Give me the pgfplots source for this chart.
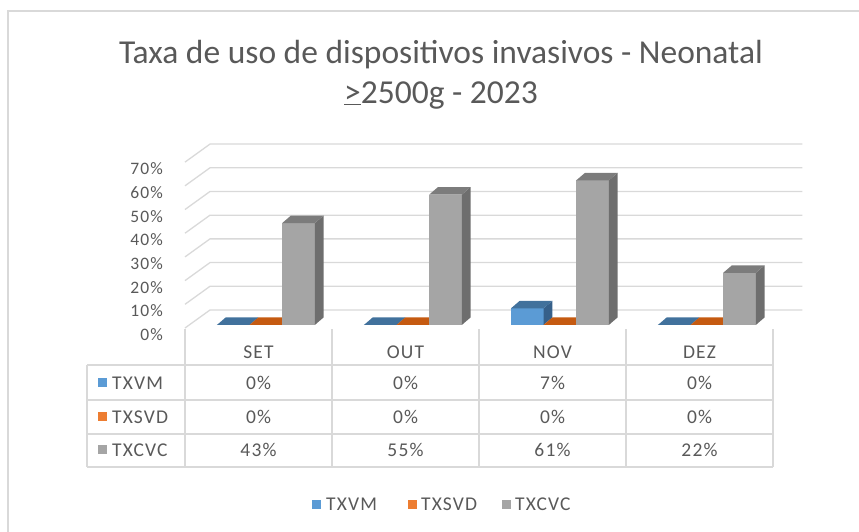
\documentclass[border=0pt]{standalone}
\usepackage{pgfplots}
\pgfplotsset{compat=1.18}
\usepackage{pgfplotstable}
\usepackage{fontspec}
\setmainfont{Carlito}
\newfontfamily\spaced[LetterSpace=6]{Carlito}
\definecolor{txt}{HTML}{595959}
\definecolor{gridc}{HTML}{D9D9D9}
\definecolor{tblc}{HTML}{D9D9D9}
\definecolor{framec}{HTML}{D9D9D9}
\definecolor{TXVMfront}{HTML}{5B9BD5}
\definecolor{TXVMtop}{HTML}{41719C}
\definecolor{TXVMside}{HTML}{36608A}
\definecolor{TXSVDfront}{HTML}{ED7D31}
\definecolor{TXSVDtop}{HTML}{C55A11}
\definecolor{TXSVDside}{HTML}{B04E10}
\definecolor{TXCVCfront}{HTML}{A5A5A5}
\definecolor{TXCVCtop}{HTML}{7C7C7C}
\definecolor{TXCVCside}{HTML}{6E6E6E}

\pgfplotstableread{
month TXVM TXSVD TXCVC
SET 0 0 43
OUT 0 0 55
NOV 7 0 61
DEZ 0 0 22
}\rates

% one 3-D column: #1 row (month), #2 series index, #3 column name
\newcommand\drawbar[3]{%
  \pgfplotstablegetelem{#1}{#3}\of\rates
  \pgfmathsetmacro\h{\pgfplotsretval}%
  \pgfmathsetmacro\xa{#1+0.19+0.222*#2+0.027}%
  \pgfmathsetmacro\xb{\xa+0.222}%
  \pgfmathsetmacro\xc{\xa+0.06}%
  \pgfmathsetmacro\xd{\xb+0.06}%
  \pgfmathsetmacro\yb{1.27}%
  \pgfmathsetmacro\yt{\yb+\h}%
  \pgfmathsetmacro\ybb{\yb+3.2}%
  \pgfmathsetmacro\ytb{\yt+3.2}%
  \edef\tmp{%
    \noexpand\addplot[draw=none, fill=#3front] coordinates {(\xa,\yb) (\xb,\yb) (\xb,\yt) (\xa,\yt)} --cycle;
    \noexpand\addplot[draw=none, fill=#3side] coordinates {(\xb,\yb) (\xd,\ybb) (\xd,\ytb) (\xb,\yt)} --cycle;
    \noexpand\addplot[draw=none, fill=#3top] coordinates {(\xa,\yt) (\xb,\yt) (\xd,\ytb) (\xc,\ytb)} --cycle;
  }\tmp
}

\tikzset{
  tb/.style={font=\spaced\fontsize{19.5bp}{21bp}\selectfont, text=txt, inner sep=0pt,
             text height=12.5bp, text depth=0pt},
}

\begin{document}
\begin{tikzpicture}
\path[use as bounding box] (0,0) rectangle (859bp,-532bp);
% outer frame (right and bottom edges fall outside)
\draw[framec, line width=1.8bp] (8bp,-540bp) -- (8bp,-11bp) -- (870bp,-11bp);

% title
\node[font=\fontsize{33.5bp}{36bp}\selectfont, text=txt, anchor=base] at (441bp,-63bp)
  {Taxa de uso de dispositivos invasivos - Neonatal};
\node[font=\fontsize{33.5bp}{36bp}\selectfont, text=txt, anchor=base] at (441bp,-103bp)
  {\underline{>}2500g - 2023};

\begin{axis}[
  at={(185bp,-328bp)}, anchor=south west,
  scale only axis, width=588bp, height=165.9bp,
  xmin=0, xmax=4, ymin=0, ymax=70,
  axis line style={draw=none},
  xtick=\empty, ytick={0,10,...,70}, ytick pos=left,
  major tick length=0pt,
  yticklabel={\pgfmathprintnumber{\tick}\%},
  /pgf/number format/assume math mode=true,
  yticklabel style={font=\spaced\fontsize{17.5bp}{19bp}\selectfont, text=txt,
     inner sep=0pt, text height=11.2bp, text depth=0pt,
     anchor=east, xshift=-22bp, yshift=-7bp},
  clip=false,
]
\pgfplotsforeachungrouped \v in {0,10,...,70}{%
  \pgfmathsetmacro\vb{\v+7.6}%
  \edef\tmp{\noexpand\addplot[draw=gridc, line width=1.3bp] coordinates {(0,\v) (0.17,\vb) (4.2,\vb)};}\tmp
}
\pgfplotsforeachungrouped \r in {0,1,2,3}{%
  \drawbar{\r}{0}{TXVM}%
  \drawbar{\r}{1}{TXSVD}%
  \drawbar{\r}{2}{TXCVC}%
}
\end{axis}

% data table
\begin{scope}[tblc, line width=1.3bp]
  \foreach \y in {365,400,434,467} \draw (87bp,-\y bp) -- (773bp,-\y bp);
  \draw (87bp,-365bp) -- (87bp,-467bp);
  \foreach \x in {185,332,479,626,773} \draw (\x bp,-329bp) -- (\x bp,-467bp);
\end{scope}
\foreach \m [count=\i from 0] in {SET,OUT,NOV,DEZ}
  \node[tb] at ({(258.5+147*\i)*1bp},-352bp) {\m};
% row headers
\fill[TXVMfront] (98bp,-378bp) rectangle (106.5bp,-386.5bp);
\fill[TXSVDfront] (98bp,-412bp) rectangle (106.5bp,-420.5bp);
\fill[TXCVCfront] (98bp,-445bp) rectangle (106.5bp,-453.5bp);
\node[tb, anchor=west] at (112bp,-383bp) {TXVM};
\node[tb, anchor=west] at (112bp,-417bp) {TXSVD};
\node[tb, anchor=west] at (112bp,-450bp) {TXCVC};
% cell values
\foreach \v [count=\i from 0] in {0\%,0\%,7\%,0\%}
  \node[tb] at ({(258.5+147*\i)*1bp},-383bp) {\v};
\foreach \v [count=\i from 0] in {0\%,0\%,0\%,0\%}
  \node[tb] at ({(258.5+147*\i)*1bp},-417bp) {\v};
\foreach \v [count=\i from 0] in {43\%,55\%,61\%,22\%}
  \node[tb] at ({(258.5+147*\i)*1bp},-450bp) {\v};

% legend
\fill[TXVMfront] (312bp,-500bp) rectangle (320.5bp,-508.5bp);
\node[tb, anchor=west] at (326bp,-504bp) {TXVM};
\fill[TXSVDfront] (408bp,-500bp) rectangle (416.5bp,-508.5bp);
\node[tb, anchor=west] at (421bp,-504bp) {TXSVD};
\fill[TXCVCfront] (502bp,-500bp) rectangle (510.5bp,-508.5bp);
\node[tb, anchor=west] at (515bp,-504bp) {TXCVC};
\end{tikzpicture}
\end{document}
